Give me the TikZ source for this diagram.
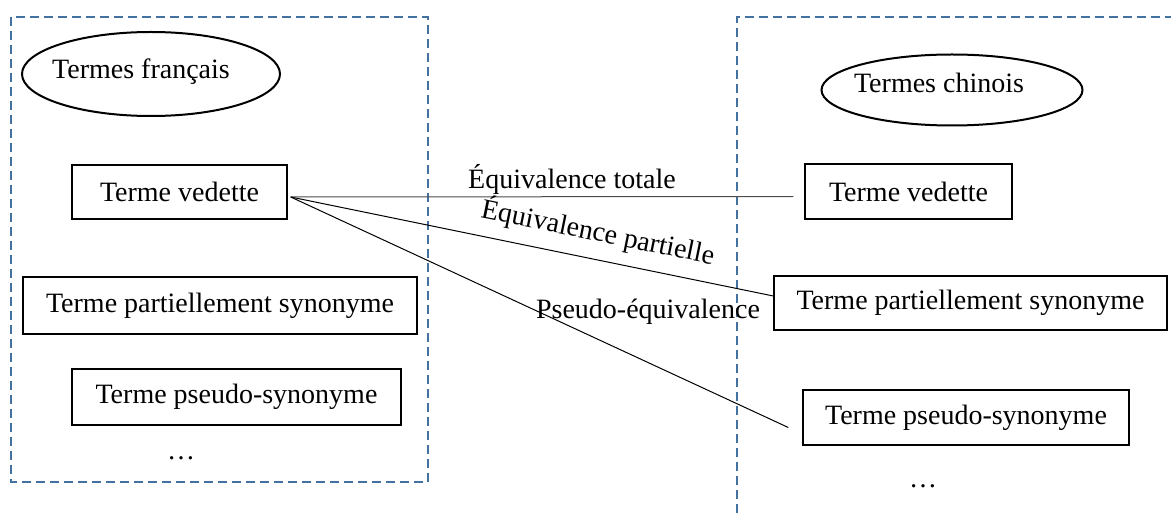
\documentclass[tikz,border=0pt]{standalone}
\usepackage{fontspec}
\setmainfont{Liberation Serif}
\usepackage{xcolor}
\usetikzlibrary{shapes.geometric}
\definecolor{cadre}{RGB}{68,114,160}

\begin{document}
\begin{tikzpicture}[x=0.5pt,y=-0.5pt,
        font=\fontsize{14}{16}\selectfont,
        terme/.style={draw, rectangle, line width=0.7pt, inner sep=0pt},
        langue/.style={draw, ellipse, line width=1pt, inner sep=0pt},
        zone/.style={draw=cadre, line width=1.2pt, dash pattern=on 4.5pt off 2.5pt},
        lien/.style={draw, line width=0.5pt}]
        \useasboundingbox (0,0) rectangle (1171,513);

        \draw[zone] (11,17) rectangle (428,482);
        \draw[zone] (737,513) -- (737,17) -- (1171,17);

        \node[langue, minimum width=129pt, minimum height=42pt,
              label={[xshift=-5pt, yshift=1pt]center:Termes français}] (Francais) at (151,74) {};
        \node[langue, minimum width=130.5pt, minimum height=35.5pt,
              label={[xshift=-6.5pt, yshift=3.5pt]center:Termes chinois}] (Chinois) at (952,90) {};

        \node[terme, minimum width=107.5pt, minimum height=27pt] (Vedette-F) at (179.5,192) {Terme vedette};
        \node[terme, minimum width=197pt, minimum height=28.5pt] (Partiel-F) at (220,305.5) {Terme partiellement synonyme};
        \node[terme, minimum width=164.5pt, minimum height=28pt] (Pseudo-F) at (236.5,397) {Terme pseudo-synonyme};
        \node (Suite-F) at (181,458) {\dots};

        \node[terme, minimum width=103.5pt, minimum height=27.5pt] (Vedette-C) at (908.5,191.5) {Terme vedette};
        \node[terme, minimum width=196.5pt, minimum height=27pt] (Partiel-C) at (970.5,303) {Terme partiellement synonyme};
        \node[terme, minimum width=163pt, minimum height=27.5pt] (Pseudo-C) at (966,417.5) {Terme pseudo-synonyme};
        \node (Suite-C) at (923,486) {\dots};

        \coordinate (Depart) at ([shift={(3,5)}]Vedette-F.east);

        \draw[lien, black!70] (Depart) -- ([shift={(-11,5)}]Vedette-C.west);
        \draw[lien] (Depart) -- ([shift={(0,-7)}]Partiel-C.west);
        \draw[lien] (Depart) -- ([shift={(-14,10)}]Pseudo-C.west);

        \node (Totale) at (572,179) {Équivalence totale};
        \node[rotate=-11.5] (Partielle) at (598,232) {Équivalence partielle};
        \node (Pseudo) at (648,312) {Pseudo-équivalence};
    \end{tikzpicture}
\end{document}
